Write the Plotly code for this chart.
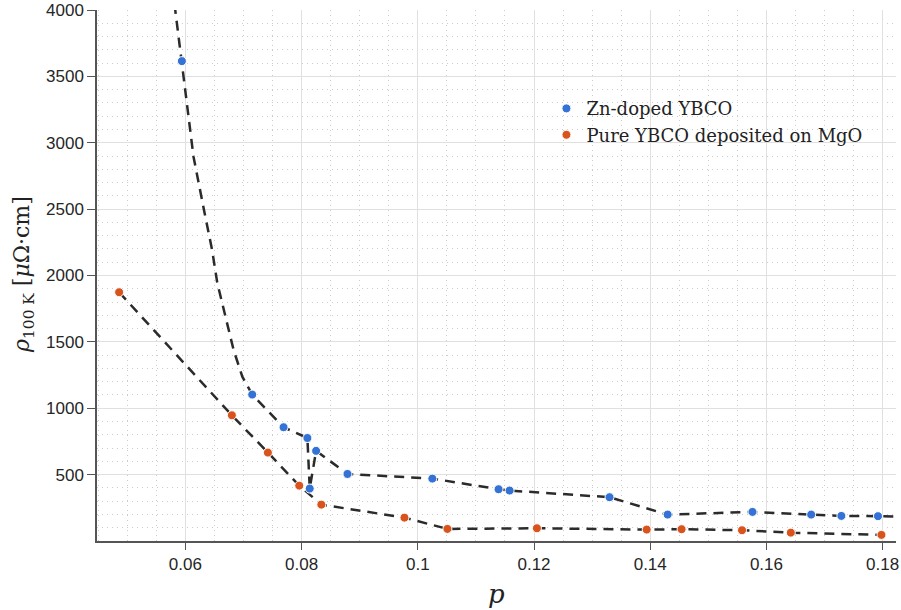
import plotly.graph_objects as go

# ---- data ----
zn_p = [0.0594, 0.0715, 0.0769, 0.0810, 0.0825, 0.0814, 0.0879, 0.1025, 0.1139,
        0.1158, 0.1330, 0.1430, 0.1576, 0.1677, 0.1729, 0.1792]
zn_rho = [3615, 1103, 857, 776, 679, 395, 505, 470, 390,
          380, 330, 199, 219, 199, 189, 187]

# dashed guide curve for the Zn-doped series
zn_guide_p = [0.0574, 0.0594, 0.0603, 0.0614, 0.0632, 0.0646, 0.0655, 0.0669, 0.0683,
              0.0698, 0.0715, 0.0769, 0.0810, 0.0814, 0.0825, 0.0879, 0.1025, 0.1139,
              0.1158, 0.1330, 0.1430, 0.1576, 0.1677, 0.1729, 0.1792, 0.1830]
zn_guide_rho = [4300, 3615, 3297, 2895, 2494, 2192, 1942, 1690, 1439,
                1238, 1103, 857, 776, 395, 679, 505, 470, 390,
                380, 330, 199, 219, 199, 189, 187, 183]

mgo_p = [0.0486, 0.0680, 0.0742, 0.0796, 0.0834, 0.0977, 0.1051, 0.1205, 0.1394,
         0.1454, 0.1558, 0.1642, 0.1798]
mgo_rho = [1874, 947, 666, 417, 274, 176, 91, 96, 86, 89, 81, 63, 46]

x_ticks = [0.06, 0.08, 0.10, 0.12, 0.14, 0.16, 0.18]
x_tick_labels = ["0.06", "0.08", "0.1", "0.12", "0.14", "0.16", "0.18"]
y_ticks = [500, 1000, 1500, 2000, 2500, 3000, 3500, 4000]
y_tick_labels = ["500", "1000", "1500", "2000", "2500", "3000", "3500", "4000"]

series_names = ["Zn-doped YBCO", "Pure YBCO deposited on MgO"]
x_title = "<i>p</i>"
y_title = "<i>ρ</i><sub>100 K</sub> [<i>μ</i>Ω·cm]"

BLUE = "#3472d6"
ORANGE = "#d9541c"
LINE = "#2b2b2b"
DASH = "10px,7px"

fig = go.Figure()

fig.add_trace(go.Scatter(x=zn_guide_p, y=zn_guide_rho, mode="lines",
                         line=dict(color=LINE, width=2.5, dash=DASH),
                         showlegend=False, hoverinfo="skip"))
fig.add_trace(go.Scatter(x=mgo_p, y=mgo_rho, mode="lines",
                         line=dict(color=LINE, width=2.5, dash=DASH),
                         showlegend=False, hoverinfo="skip"))

fig.add_trace(go.Scatter(x=zn_p, y=zn_rho, mode="markers", name=series_names[0],
                         marker=dict(color=BLUE, size=9, line=dict(color="white", width=1))))
fig.add_trace(go.Scatter(x=mgo_p, y=mgo_rho, mode="markers", name=series_names[1],
                         marker=dict(color=ORANGE, size=9, line=dict(color="white", width=1))))

tick_font = dict(family="Liberation Sans, Arial, sans-serif", size=17, color="#262626")
serif = "DejaVu Serif, serif"

common = dict(
    ticks="outside", tickwidth=1.2, tickcolor="#555",
    showline=True, linecolor="#555", linewidth=1.5,
    showgrid=True, gridcolor="#e0e0e0", gridwidth=1.3,
    zeroline=False, tickfont=tick_font, automargin=False,
)
fig.update_xaxes(
    range=[0.04479, 0.1823], tickvals=x_ticks, ticktext=x_tick_labels, ticklen=7,
    minor=dict(dtick=0.005, tick0=0.0, showgrid=True, gridcolor="#cccccc",
               griddash="1px,4px", gridwidth=1),
    **common,
)
fig.update_yaxes(
    range=[0, 4000], tickvals=y_ticks, ticktext=y_tick_labels, ticklen=8,
    minor=dict(dtick=100, tick0=0, showgrid=True, gridcolor="#cccccc",
               griddash="1px,4px", gridwidth=1),
    **common,
)

fig.add_annotation(text=x_title, xref="paper", yref="paper", x=0.5, y=-0.099,
                   xanchor="center", yanchor="middle", showarrow=False,
                   font=dict(family=serif, size=26, color="#222"))
fig.add_annotation(text=y_title, xref="paper", yref="paper", x=-0.0914, y=0.503,
                   xanchor="center", yanchor="middle", showarrow=False, textangle=-90,
                   font=dict(family=serif, size=22, color="#222"))

fig.update_layout(
    width=901, height=610,
    margin=dict(l=97, r=5, t=10, b=69),
    paper_bgcolor="white", plot_bgcolor="white",
    legend=dict(x=0.5625, y=0.849, xanchor="left", yanchor="top",
                bgcolor="rgba(0,0,0,0)", borderwidth=0,
                font=dict(family=serif, size=18, color="#222")),
)

fig.write_html("out.html", config={"displayModeBar": False},
               post_script="document.body.style.margin='0';document.body.style.overflow='hidden';")
